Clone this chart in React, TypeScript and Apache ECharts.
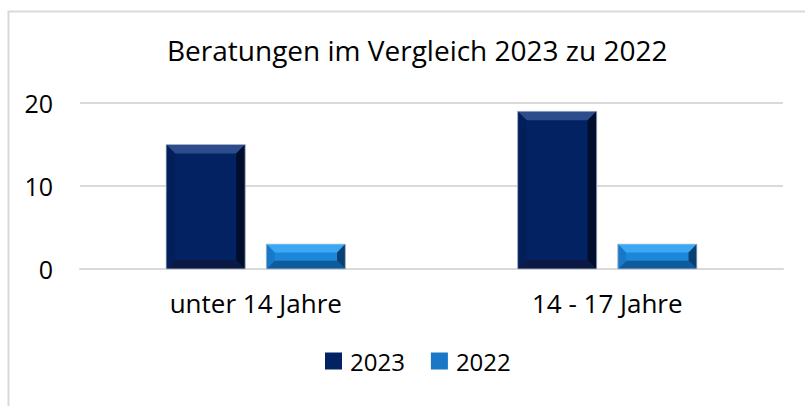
import React, { useEffect, useRef } from "react";
import * as echarts from "echarts";

const categories = ["unter 14 Jahre", "14 - 17 Jahre"];
const values2023 = [15, 19];
const values2022 = [3, 3];
const seriesNames = ["2023", "2022"];
const yTicks = { min: 0, max: 20, interval: 10 };
const titleText = "Beratungen im Vergleich 2023 zu 2022";

const palettes = [
  { main: "#022262", top: "#2d4c8c", bottom: "#0a1a45", left: "#031f5a", right: "#000d2c", legend: "#022262" },
  { main: "#1c86d8", top: "#3aa8f4", bottom: "#0f5c9c", left: "#1979c8", right: "#0a3f72", legend: "#1a78c6" },
];

const FONT = "Open Sans";

function makeRenderItem(seriesIdx: number) {
  return (params: any, api: any) => {
    const cat = api.value(0);
    const v = api.value(1);
    const bw = api.size([1, 0])[0];
    const barW = bw * 0.225;
    const gap = bw * 0.06;
    const base = api.coord([cat, 0]);
    const topPt = api.coord([cat, v]);
    const offset = seriesIdx === 0 ? -(barW + gap) / 2 : (barW + gap) / 2;
    const x0 = base[0] + offset - barW / 2;
    const x1 = x0 + barW;
    const y0 = topPt[1];
    const y1 = base[1];
    const h = y1 - y0;
    const b = Math.min(9, h / 3);
    const p = palettes[seriesIdx];
    return {
      type: "group",
      children: [
        { type: "rect", shape: { x: x0, y: y0, width: barW, height: h }, style: { fill: p.main } },
        { type: "polygon", shape: { points: [[x0, y0], [x1, y0], [x1 - b, y0 + b], [x0 + b, y0 + b]] }, style: { fill: p.top } },
        { type: "polygon", shape: { points: [[x0, y1], [x1, y1], [x1 - b, y1 - b], [x0 + b, y1 - b]] }, style: { fill: p.bottom } },
        { type: "polygon", shape: { points: [[x0, y0], [x0 + b, y0 + b], [x0 + b, y1 - b], [x0, y1]] }, style: { fill: p.left } },
        { type: "polygon", shape: { points: [[x1, y0], [x1 - b, y0 + b], [x1 - b, y1 - b], [x1, y1]] }, style: { fill: p.right } },
        { type: "rect", shape: { x: x0, y: y0, width: barW, height: h }, style: { fill: "none", stroke: "rgba(190,195,210,0.8)", lineWidth: 1 } },
      ],
    };
  };
}

export default function App() {
  const ref = useRef<HTMLDivElement>(null);
  useEffect(() => {
    if (!ref.current) return;
    const chart = echarts.init(ref.current, undefined, { renderer: "svg" });
    const allSeries = [values2023, values2022];
    chart.setOption({
      animation: false,
      backgroundColor: "#ffffff",
      title: {
        text: titleText,
        left: 162,
        top: 31,
        textStyle: { fontFamily: FONT, fontSize: 28, fontWeight: "normal", color: "#000000" },
      },
      legend: {
        bottom: 28,
        left: 320,
        itemWidth: 17,
        itemHeight: 17,
        itemGap: 26,
        icon: "rect",
        textStyle: { fontFamily: FONT, fontSize: 24, color: "#000000", padding: [0, 0, 0, 3] },
        data: seriesNames.map((n, i) => ({ name: n, itemStyle: { color: palettes[i].legend } })),
      },
      grid: { left: 80, right: 22, top: 103, bottom: 137, containLabel: false },
      xAxis: {
        type: "category",
        data: categories,
        axisLine: { lineStyle: { color: "#d9d9d9", width: 2 } },
        axisTick: { show: false },
        axisLabel: { fontFamily: FONT, fontSize: 26, color: "#000000", margin: 21 },
      },
      yAxis: {
        type: "value",
        min: yTicks.min,
        max: yTicks.max,
        interval: yTicks.interval,
        axisLine: { show: false },
        axisTick: { show: false },
        splitLine: { lineStyle: { color: "#d9d9d9", width: 2 } },
        axisLabel: { fontFamily: FONT, fontSize: 25, color: "#000000", margin: 27 },
      },
      graphic: [
        {
          type: "rect",
          left: 6,
          top: 9,
          shape: { width: 900, height: 500 },
          style: { fill: "none", stroke: "#d9d9d9", lineWidth: 2 },
          z: -1,
        },
      ],
      series: allSeries.map((vals, si) => ({
        type: "custom",
        name: seriesNames[si],
        itemStyle: { color: palettes[si].legend },
        encode: { x: 0, y: 1 },
        renderItem: makeRenderItem(si),
        data: vals.map((v, i) => [i, v]),
      })),
    });
    return () => chart.dispose();
  }, []);
  return <div ref={ref} style={{ position: "fixed", left: 0, top: 0, width: 805, height: 406 }} />;
}
